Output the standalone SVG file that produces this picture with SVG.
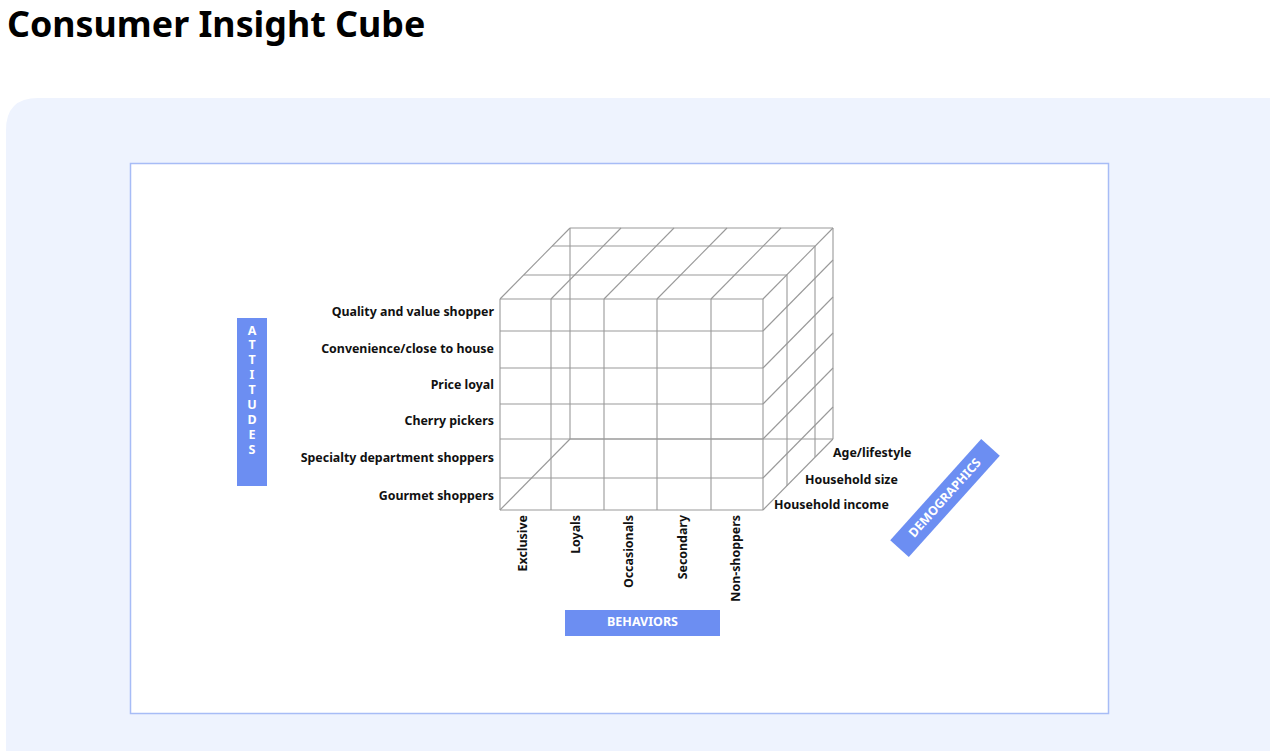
<svg xmlns="http://www.w3.org/2000/svg" width="1270" height="751" viewBox="0 0 1270 751">
<defs>
<style>
.title{font-family:"Noto Sans","Open Sans",sans-serif;font-weight:700;font-size:35.8px;fill:#000}
.lbl{font-family:"Noto Sans","Open Sans",sans-serif;font-weight:700;font-size:12.4px;fill:#111}
.bar{fill:#6C8EF2}
.bartxt{font-family:"Noto Sans","Open Sans",sans-serif;font-weight:700;font-size:12.5px;fill:#fff}
.grid line{stroke:#999;stroke-width:1.1;fill:none}
</style>
</defs>
<rect width="1270" height="751" fill="#fff"/>
<text class="title" x="7" y="37">Consumer Insight Cube</text>
<path d="M6 130 Q6 98 38 98 L1270 98 L1270 751 L6 751 Z" fill="#EEF3FE"/>
<rect x="130.5" y="163.5" width="978" height="550" fill="#fff" stroke="#A7BCF6" stroke-width="1.5"/>

<g id="cube" class="grid">
<!-- front face -->
<line x1="500" y1="299" x2="500" y2="510"/>
<line x1="551" y1="299" x2="551" y2="510"/>
<line x1="604" y1="299" x2="604" y2="510"/>
<line x1="657" y1="299" x2="657" y2="510"/>
<line x1="711" y1="299" x2="711" y2="510"/>
<line x1="763" y1="299" x2="763" y2="510"/>
<line x1="500" y1="299" x2="763" y2="299"/>
<line x1="500" y1="331" x2="763" y2="331"/>
<line x1="500" y1="368" x2="763" y2="368"/>
<line x1="500" y1="404" x2="763" y2="404"/>
<line x1="500" y1="439" x2="763" y2="439"/>
<line x1="500" y1="478" x2="763" y2="478"/>
<line x1="500" y1="510" x2="763" y2="510"/>
<!-- top face -->
<line x1="524" y1="275" x2="787" y2="275"/>
<line x1="552" y1="246" x2="815" y2="246"/>
<line x1="570" y1="228" x2="833" y2="228"/>
<line x1="500" y1="299" x2="570" y2="228"/>
<line x1="551" y1="299" x2="621" y2="228"/>
<line x1="604" y1="299" x2="674" y2="228"/>
<line x1="657" y1="299" x2="727" y2="228"/>
<line x1="711" y1="299" x2="781" y2="228"/>
<line x1="763" y1="299" x2="833" y2="228"/>
<!-- right face -->
<line x1="787" y1="275" x2="787" y2="486"/>
<line x1="815" y1="246" x2="815" y2="457"/>
<line x1="833" y1="228" x2="833" y2="439"/>
<line x1="763" y1="331" x2="833" y2="260"/>
<line x1="763" y1="368" x2="833" y2="297"/>
<line x1="763" y1="404" x2="833" y2="333"/>
<line x1="763" y1="439" x2="833" y2="368"/>
<line x1="763" y1="478" x2="833" y2="407"/>
<line x1="763" y1="510" x2="833" y2="439"/>
<!-- back / bottom edges -->
<line x1="570" y1="228" x2="570" y2="439"/>
<line x1="570" y1="439" x2="833" y2="439"/>
<line x1="500" y1="510" x2="570" y2="439"/>
</g>

<g id="attitudes">
<rect class="bar" x="237" y="318" width="30" height="168"/>
<g class="bartxt" text-anchor="middle">
<text x="252" y="334.5">A</text>
<text x="252" y="349.4">T</text>
<text x="252" y="364.3">T</text>
<text x="252" y="379.2">I</text>
<text x="252" y="394.1">T</text>
<text x="252" y="409">U</text>
<text x="252" y="423.9">D</text>
<text x="252" y="438.8">E</text>
<text x="252" y="453.7">S</text>
</g>
</g>

<g id="attitude-labels" class="lbl" text-anchor="end">
<text x="494" y="315.5">Quality and value shopper</text>
<text x="494" y="352.5">Convenience/close to house</text>
<text x="494" y="388.5">Price loyal</text>
<text x="494" y="424.5">Cherry pickers</text>
<text x="494" y="461.5">Specialty department shoppers</text>
<text x="494" y="499.5">Gourmet shoppers</text>
</g>

<g id="behavior-labels" class="lbl" text-anchor="end">
<text transform="translate(527,515) rotate(-90)">Exclusive</text>
<text transform="translate(580,515) rotate(-90)">Loyals</text>
<text transform="translate(633,515) rotate(-90)">Occasionals</text>
<text transform="translate(687,515) rotate(-90)">Secondary</text>
<text transform="translate(740,515) rotate(-90)">Non-shoppers</text>
</g>

<g id="behaviors">
<rect class="bar" x="565" y="610" width="155" height="26"/>
<text class="bartxt" x="642.5" y="626" text-anchor="middle">BEHAVIORS</text>
</g>

<g id="demographic-labels" class="lbl">
<text x="833" y="457">Age/lifestyle</text>
<text x="805" y="484">Household size</text>
<text x="774" y="508.5">Household income</text>
</g>

<g id="demographics" transform="translate(945,498) rotate(-48)">
<rect class="bar" x="-68" y="-12.5" width="136" height="25"/>
<text class="bartxt" x="0" y="4" text-anchor="middle" font-size="11.5">DEMOGRAPHICS</text>
</g>
</svg>
